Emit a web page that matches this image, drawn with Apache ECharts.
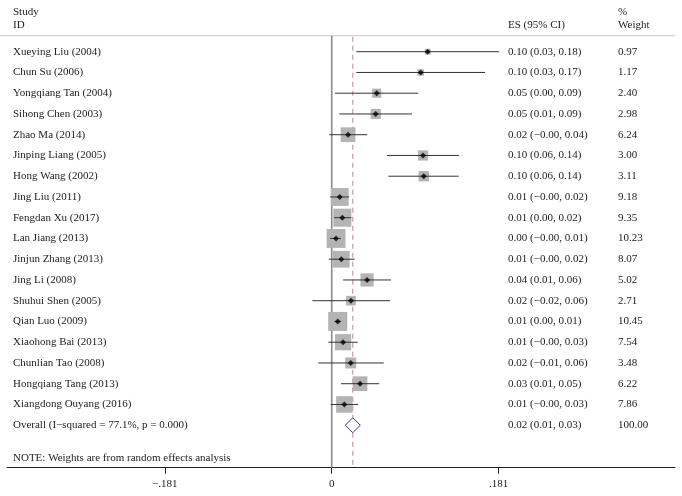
<!DOCTYPE html>
<html><head><meta charset="utf-8">
<script src="https://cdn.jsdelivr.net/npm/echarts@6/dist/echarts.min.js"></script>
<style>html,body{margin:0;padding:0;background:#fff}#c{width:682px;height:496px}</style>
</head><body><div id="c"></div>
<script>
// ---------- data ----------
const studies = ['Xueying Liu (2004)','Chun Su (2006)','Yongqiang Tan (2004)','Sihong Chen (2003)','Zhao Ma (2014)','Jinping Liang (2005)','Hong Wang (2002)','Jing Liu (2011)','Fengdan Xu (2017)','Lan Jiang (2013)','Jinjun Zhang (2013)','Jing Li (2008)','Shuhui Shen (2005)','Qian Luo (2009)','Xiaohong Bai (2013)','Chunlian Tao (2008)','Hongqiang Tang (2013)','Xiangdong Ouyang (2016)'];
const es     = [0.1041,0.0965,0.0488,0.0477,0.0177,0.0990,0.0998,0.0087,0.0115,0.0047,0.0104,0.0383,0.0209,0.0065,0.0123,0.0206,0.0307,0.0137];
const ciLow  = [0.0267,0.0267,0.0036,0.0082,-0.0026,0.0600,0.0614,-0.0018,0.0025,-0.0018,-0.0033,0.0123,-0.0210,0.0030,-0.0037,-0.0145,0.0101,-0.0011];
const ciHigh = [0.1815,0.1663,0.0939,0.0871,0.0386,0.1380,0.1377,0.0188,0.0213,0.0101,0.0249,0.0643,0.0632,0.0100,0.0282,0.0564,0.0516,0.0285];
const weights = [0.97,1.17,2.40,2.98,6.24,3.00,3.11,9.18,9.35,10.23,8.07,5.02,2.71,10.45,7.54,3.48,6.22,7.86];
const esText = ['0.10 (0.03, 0.18)','0.10 (0.03, 0.17)','0.05 (0.00, 0.09)','0.05 (0.01, 0.09)','0.02 (−0.00, 0.04)','0.10 (0.06, 0.14)','0.10 (0.06, 0.14)','0.01 (−0.00, 0.02)','0.01 (0.00, 0.02)','0.00 (−0.00, 0.01)','0.01 (−0.00, 0.02)','0.04 (0.01, 0.06)','0.02 (−0.02, 0.06)','0.01 (0.00, 0.01)','0.01 (−0.00, 0.03)','0.02 (−0.01, 0.06)','0.03 (0.01, 0.05)','0.01 (−0.00, 0.03)'];
const weightText = ['0.97','1.17','2.40','2.98','6.24','3.00','3.11','9.18','9.35','10.23','8.07','5.02','2.71','10.45','7.54','3.48','6.22','7.86'];
const overallLabel = 'Overall (I−squared = 77.1%, p = 0.000)';
const overallES = 0.0228, overallLow = 0.0148, overallHigh = 0.0310;
const overallText = '0.02 (0.01, 0.03)', overallWeight = '100.00';
const noteText = 'NOTE: Weights are from random effects analysis';
const tickValues = [-0.181, 0, 0.181];
const tickLabels = ['−.181', '0', '.181'];

// ---------- layout ----------
const FONT = '11px "Liberation Serif", "DejaVu Serif", serif';
const X_MIN = -0.3522, X_MAX = 0.3723;
const Y_MIN = -2.492, Y_MAX = 20.048;
const X_NAME = -0.3457, X_ES = 0.1912, X_W = 0.3105;
const Y_STUDY = -1.928, Y_ID = -1.287, Y_HLINE = -0.771, Y_NOTE = 19.6;
const nRows = studies.length, overallRow = nRows;

const texts = [];
studies.forEach((s, i) => {
  texts.push([X_NAME, i, s]);
  texts.push([X_ES, i, esText[i]]);
  texts.push([X_W, i, weightText[i]]);
});
texts.push([X_NAME, overallRow, overallLabel]);
texts.push([X_ES, overallRow, overallText]);
texts.push([X_W, overallRow, overallWeight]);
texts.push([X_NAME, Y_STUDY, 'Study']);
texts.push([X_NAME, Y_ID, 'ID']);
texts.push([X_ES, Y_ID, 'ES (95% CI)']);
texts.push([X_W, Y_STUDY, '%']);
texts.push([X_W, Y_ID, 'Weight']);
texts.push([X_NAME, Y_NOTE, noteText]);

const chart = echarts.init(document.getElementById('c'), null, {renderer: 'canvas'});
chart.setOption({
  animation: false,
  backgroundColor: '#fff',
  grid: {left: 7, right: 7, top: 0, bottom: 28.3},
  xAxis: {
    type: 'value', min: X_MIN, max: X_MAX,
    axisLine: {show: true, onZero: false, lineStyle: {color: '#222', width: 1}},
    axisTick: {show: true, customValues: tickValues, length: 6, lineStyle: {color: '#222'}},
    axisLabel: {show: true, customValues: tickValues, margin: 11,
      formatter: v => tickLabels[tickValues.indexOf(v)] ?? '',
      fontFamily: '"Liberation Serif", serif', fontSize: 11, color: '#222'},
    splitLine: {show: false}
  },
  yAxis: {type: 'value', min: Y_MIN, max: Y_MAX, inverse: true, show: false},
  series: [
    { // reference lines + header separator
      type: 'custom', silent: true, clip: false, z: 1,
      data: [[0]],
      renderItem: (params, api) => {
        const cs = params.coordSys;
        const top = api.coord([0, Y_HLINE])[1];
        const bot = api.coord([0, Y_MAX])[1];
        const x0 = api.coord([0, 0])[0];
        const xo = api.coord([overallES, 0])[0];
        return {type: 'group', children: [
          {type: 'line', shape: {x1: 0, y1: top, x2: cs.x + cs.width, y2: top}, style: {stroke: '#c8c8c8', lineWidth: 1}},
          {type: 'line', shape: {x1: x0, y1: top, x2: x0, y2: bot}, style: {stroke: '#8a8a8a', lineWidth: 1.6}},
          {type: 'line', shape: {x1: xo, y1: top + 1, x2: xo, y2: bot}, style: {stroke: '#c99aa6', lineWidth: 1.2, lineDash: [5, 4]}}
        ]};
      }
    },
    { // weight boxes
      type: 'scatter', silent: true, z: 2,
      symbol: 'rect',
      data: es.map((v, i) => [v, i, weights[i]]),
      symbolSize: v => 5.9 * Math.sqrt(v[2]),
      itemStyle: {color: '#b4b4b4', opacity: 1}
    },
    { // CI lines
      type: 'custom', silent: true, clip: false, z: 3,
      data: es.map((v, i) => [ciLow[i], ciHigh[i], i]),
      encode: {x: [0, 1], y: 2},
      renderItem: (params, api) => {
        const a = api.coord([api.value(0), api.value(2)]);
        const b = api.coord([api.value(1), api.value(2)]);
        return {type: 'line', shape: {x1: a[0], y1: a[1], x2: b[0], y2: b[1]}, style: {stroke: '#333', lineWidth: 1}};
      }
    },
    { // point estimates
      type: 'scatter', silent: true, z: 4,
      symbol: 'diamond', symbolSize: 6,
      data: es.map((v, i) => [v, i]),
      itemStyle: {color: '#000'}
    },
    { // overall diamond
      type: 'custom', silent: true, clip: false, z: 4,
      data: [[overallLow, overallES, overallHigh, overallRow]],
      encode: {x: [0, 1, 2], y: 3},
      renderItem: (params, api) => {
        const y = api.value(3);
        const l = api.coord([api.value(0), y]);
        const c = api.coord([api.value(1), y]);
        const r = api.coord([api.value(2), y]);
        const h = 7.5;
        return {type: 'polygon', shape: {points: [[l[0], l[1]], [c[0], c[1] - h], [r[0], r[1]], [c[0], c[1] + h]]},
          style: {fill: '#fff', stroke: '#3a3a88', lineWidth: 1}};
      }
    },
    { // texts
      type: 'custom', silent: true, clip: false, z: 5,
      data: texts,
      renderItem: (params, api) => {
        const p = api.coord([api.value(0), api.value(1)]);
        const t = texts[params.dataIndex][2];
        return {type: 'text', x: p[0], y: p[1], style: {text: t, font: FONT, fill: '#222', textAlign: 'left', textVerticalAlign: 'middle'}};
      }
    }
  ]
});
</script>
</body></html>
